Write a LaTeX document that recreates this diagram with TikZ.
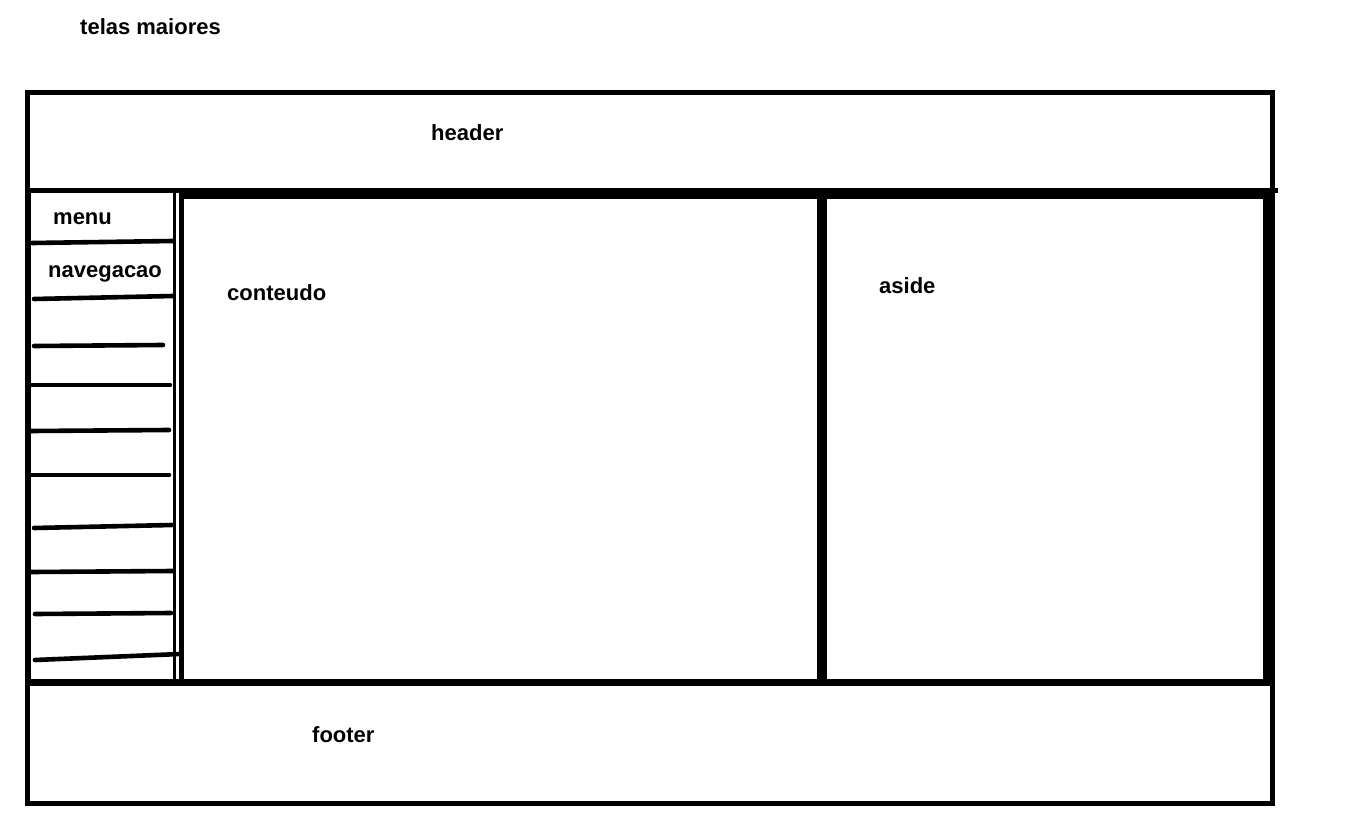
\documentclass[tikz,border=0pt]{standalone}
\usepackage{fontspec}
\setmainfont{Liberation Sans}
\begin{document}
\begin{tikzpicture}[x=1pt,y=-1pt,
  lbl/.style={font=\bfseries\fontsize{22}{24}\selectfont, inner sep=0pt, anchor=base west},
  frame/.style={line width=5pt, line cap=rect},
  heavy/.style={line width=10pt},
  navline/.style={line width=4.6pt, line cap=round}]
\useasboundingbox[fill=white] (0,0) rectangle (1346,837);
% outer frame
\draw[frame] (27.5,92.5) rectangle (1272.5,803.5);
% header bottom
\draw[line width=5pt] (27,190.5) -- (1278,190.5);
% content / aside top
\draw[line width=7pt] (180,195.5) -- (1272,195.5);
% content/aside divider
\draw[heavy] (822,193) -- (822,683);
% aside right edge
\draw[heavy] (1268,193) -- (1268,683);
% content bottom / footer top
\draw[line width=7pt] (27,682.5) -- (1272,682.5);
% menu column right double line
\draw[line width=3.8pt] (174.5,188) -- (174.5,683);
\draw[line width=5pt] (181,188) -- (181,683);
% menu left line
\draw[line width=5pt] (28,188) -- (28,683);
% menu lines
\draw[navline] (32,243) -- (173,241);
\draw[navline] (34,299) -- (173,296);
\draw[navline] (34,346) -- (163,345);
\draw[navline] (31,385) -- (170,385);
\draw[navline] (31,431) -- (169,430);
\draw[navline] (31,475) -- (169,475);
\draw[navline] (34,528) -- (172,525);
\draw[navline] (31,572) -- (173,571);
\draw[navline] (35,614) -- (171,613);
\draw[navline] (35,660) -- (180,654);
% texts
\node[lbl] (title) at (80,35) {telas maiores};
\node[lbl] (header) at (431,141) {header};
\node[lbl] (menu) at (53,225) {menu};
\node[lbl] (nav) at (48,277) {navegacao};
\node[lbl] (conteudo) at (227,300) {conteudo};
\node[lbl] (aside) at (879,293) {aside};
\node[lbl] (footer) at (312,742) {footer};
\end{tikzpicture}
\end{document}
